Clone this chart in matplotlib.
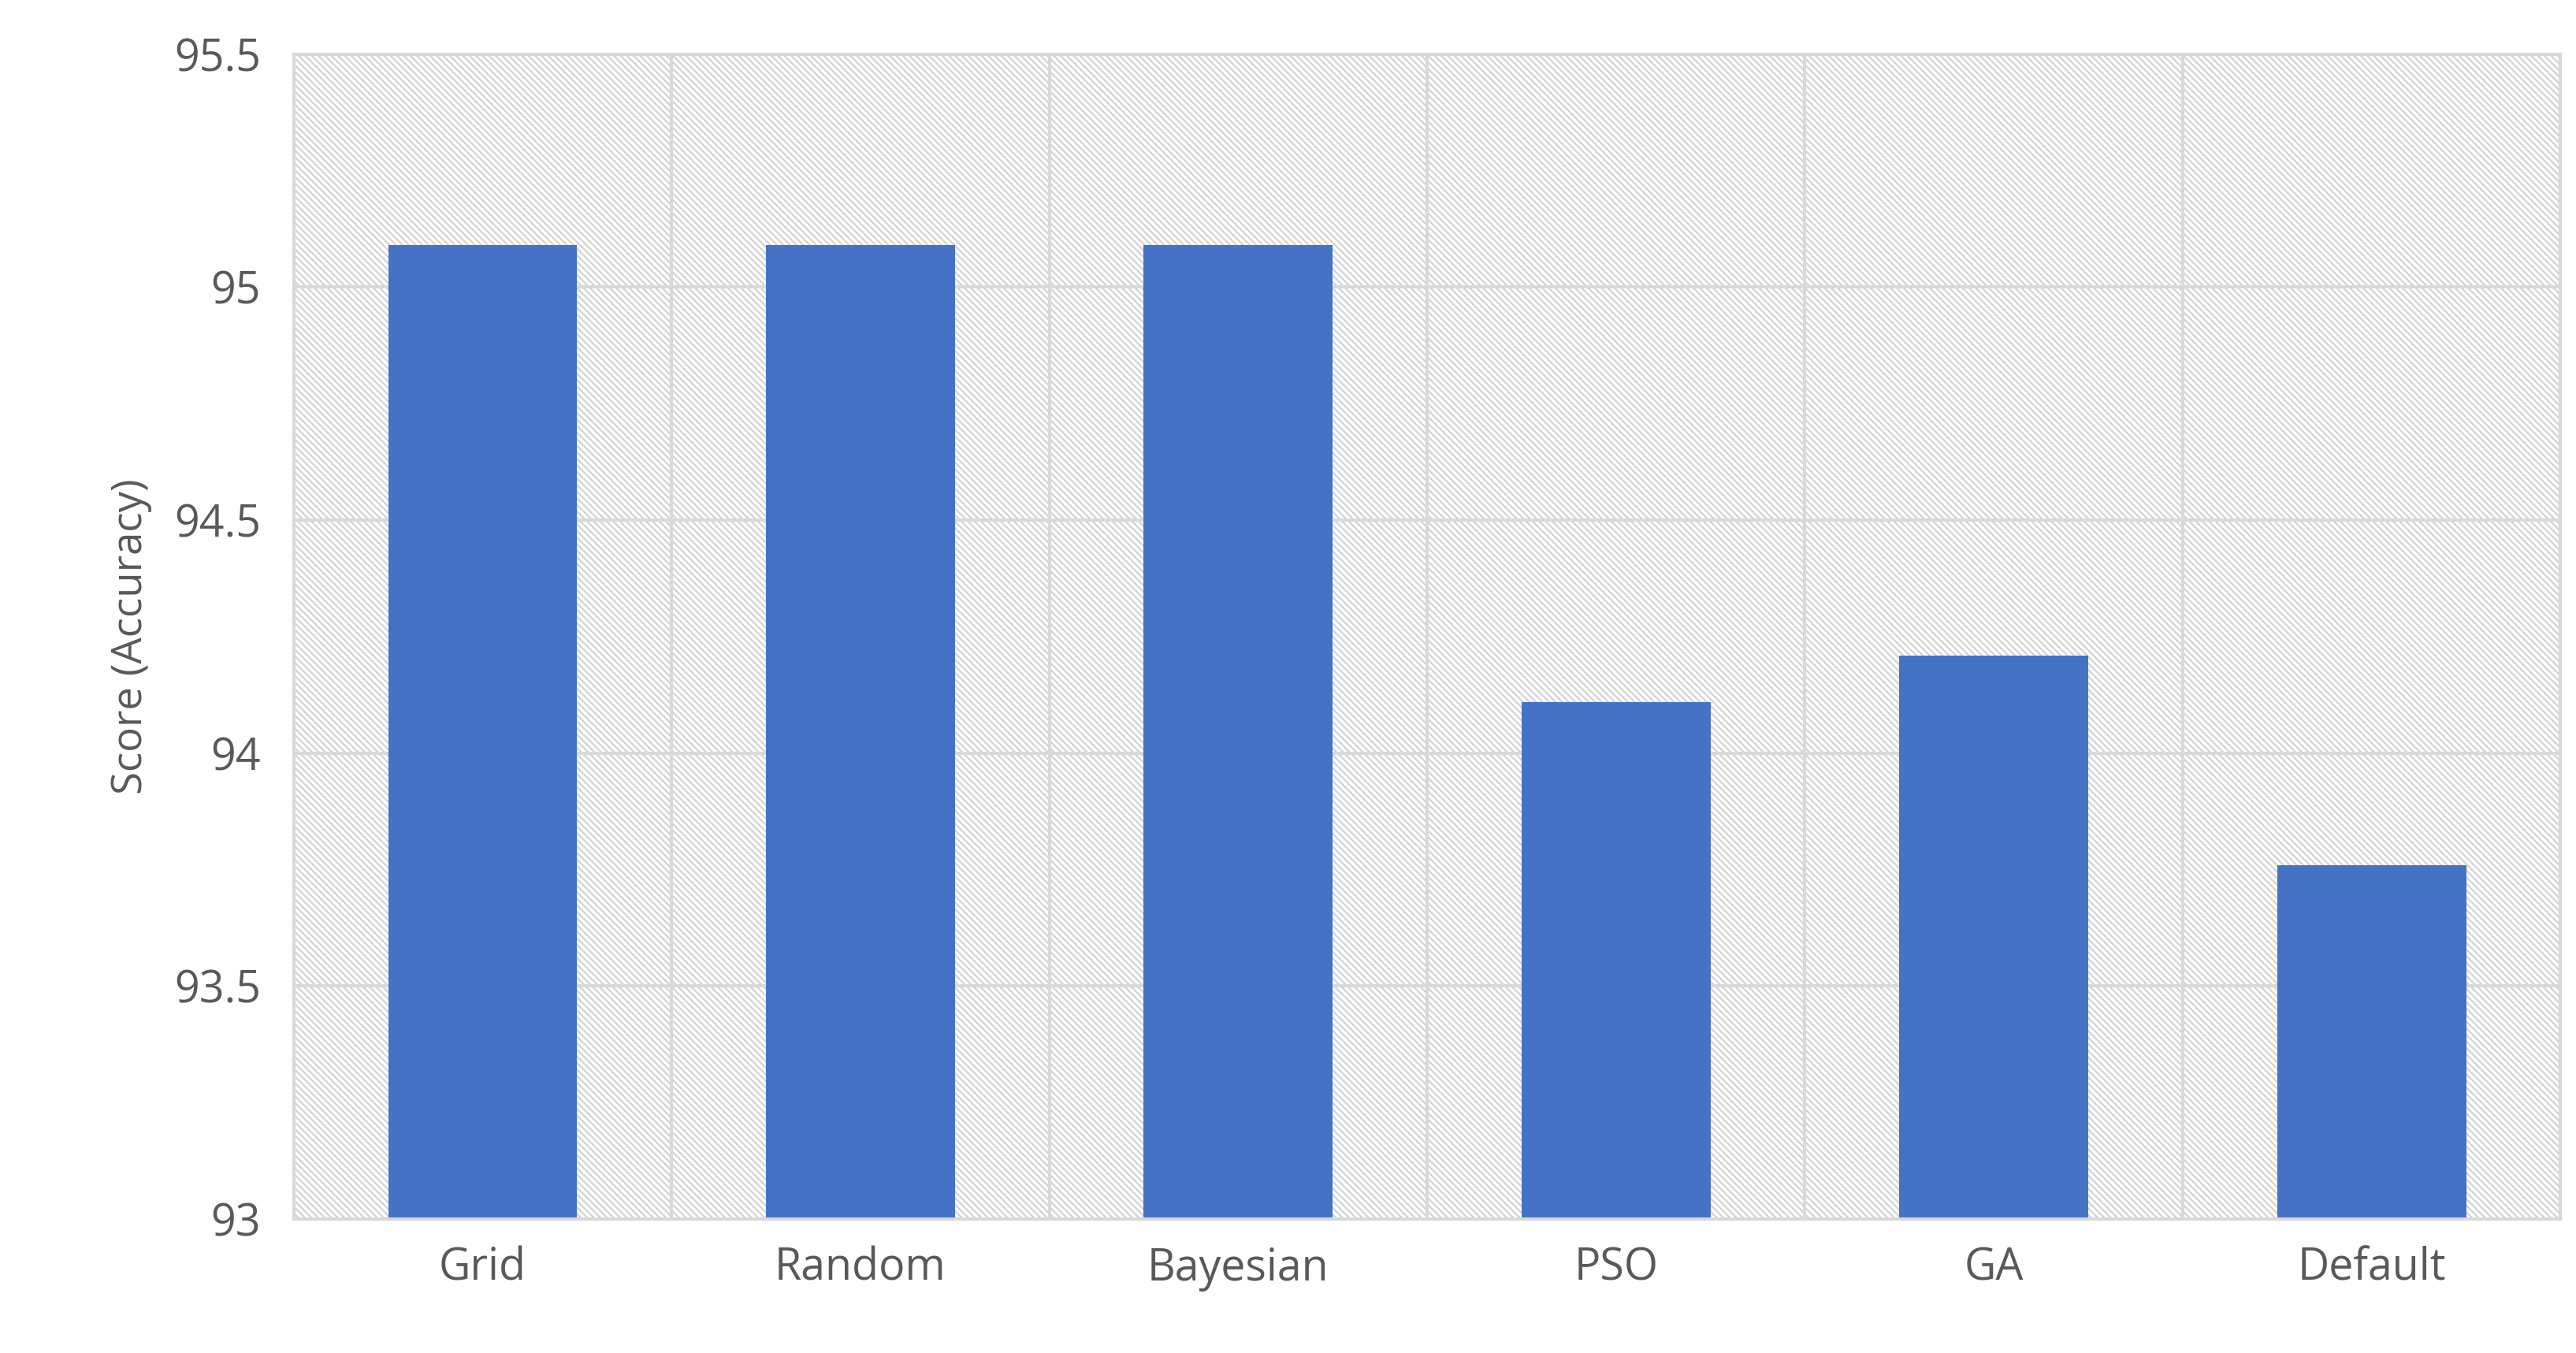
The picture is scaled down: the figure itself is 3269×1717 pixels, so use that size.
import matplotlib
matplotlib.use("Agg")
import matplotlib.pyplot as plt
from matplotlib.patches import Rectangle

categories = ["Grid", "Random", "Bayesian", "PSO", "GA", "Default"]
scores = [95.09, 95.09, 95.09, 94.11, 94.21, 93.76]
yticks = [93, 93.5, 94, 94.5, 95, 95.5]
ytick_labels = ["93", "93.5", "94", "94.5", "95", "95.5"]

plt.rcParams['font.family'] = ['Open Sans', 'DejaVu Sans']
plt.rcParams['hatch.color'] = '#d0d0d0'
plt.rcParams['hatch.linewidth'] = 1.5

fig = plt.figure(figsize=(32.69, 17.17), dpi=100)
ax = fig.add_axes([0.114, 0.099, 0.88, 0.861])
ax.set_xlim(-0.5, len(categories) - 0.5)
ax.set_ylim(93, 95.5)

ax.add_patch(Rectangle((0, 0), 1, 1, transform=ax.transAxes, facecolor='white',
                       hatch='\\\\\\\\', edgecolor='#d0d0d0', linewidth=0, zorder=0))
for y in yticks:
    ax.axhline(y, color='#d9d9d9', lw=3, zorder=1)
for x in range(len(categories) + 1):
    ax.axvline(x - 0.5, color='#d9d9d9', lw=3, zorder=1)

ax.bar(range(len(categories)), scores, width=0.5, color='#4472C4', zorder=2)

ax.set_yticks(yticks)
ax.set_yticklabels(ytick_labels)
ax.set_xticks(range(len(categories)))
ax.set_xticklabels(categories)
ax.tick_params(axis='both', length=0, labelsize=40, colors='#595959', pad=25)
ax.tick_params(axis='y', pad=30)
ax.set_ylabel("Score (Accuracy)", fontsize=38, color='#595959', labelpad=20)
for s in ax.spines.values():
    s.set_color('#d9d9d9')
    s.set_linewidth(3)

fig.savefig("out.png", dpi=100)
